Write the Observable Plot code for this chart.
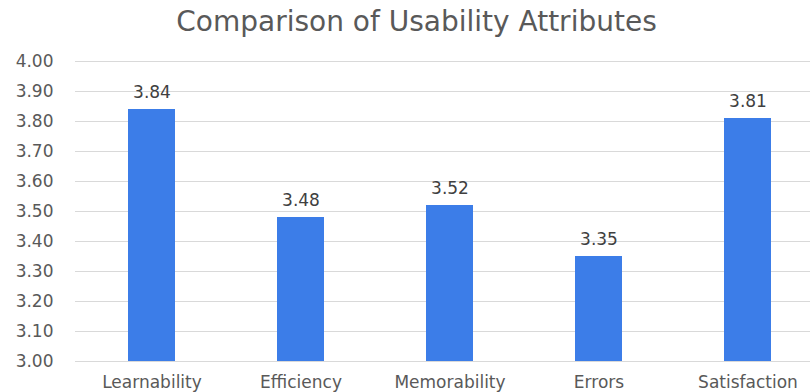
<!DOCTYPE html>
<html>
<head>
<meta charset="utf-8">
<script src="https://cdn.jsdelivr.net/npm/d3@7"></script>
<script src="https://cdn.jsdelivr.net/npm/@observablehq/plot@0.6"></script>
<style>
  html, body { margin: 0; padding: 0; background: #fff; }
  #wrap { position: relative; width: 810px; height: 392px; overflow: hidden; font-family: "DejaVu Sans", sans-serif; }
  #title { position: absolute; left: 0; top: 5px; width: 833px; text-align: center; font-size: 28px; color: #595959; white-space: nowrap; z-index: 2; }
  #chart { position: absolute; left: 0; top: 0; }
</style>
</head>
<body>
<div id="wrap">
  <div id="title">Comparison of Usability Attributes</div>
  <div id="chart"></div>
</div>
<script>
const categories = ["Learnability", "Efficiency", "Memorability", "Errors", "Satisfaction"];
const values = [3.84, 3.48, 3.52, 3.35, 3.81];
const yTicks = [3.0, 3.1, 3.2, 3.3, 3.4, 3.5, 3.6, 3.7, 3.8, 3.9, 4.0];

const data = categories.map((c, i) => ({category: c, value: values[i]}));

const chart = Plot.plot({
  width: 810,
  height: 392,
  marginTop: 61,
  marginBottom: 31,
  marginLeft: 75,
  marginRight: 0,
  style: {fontFamily: "DejaVu Sans, sans-serif", fontSize: "17px", color: "#595959", background: "transparent", overflow: "hidden"},
  x: {domain: categories, range: [75, 823], paddingInner: 0.686, paddingOuter: 0.343, label: null},
  y: {domain: [3.0, 4.0], label: null},
  marks: [
    Plot.ruleY(yTicks, {stroke: "#d9d9d9", strokeWidth: 1}),
    Plot.barY(data, {x: "category", y1: 3.0, y2: "value", fill: "#3C7DE8"}),
    Plot.text(data, {x: "category", y: "value", text: d => d.value.toFixed(2), dy: -17, fill: "#404040", fontSize: 17}),
    Plot.axisY({ticks: yTicks, tickFormat: d => d.toFixed(2), tickSize: 0, tickPadding: 22, label: null, fontSize: 17, fill: "#595959"}),
    Plot.axisX({tickSize: 0, tickPadding: 14, label: null, fontSize: 17, fill: "#595959"})
  ]
});
document.getElementById("chart").appendChild(chart);
</script>
</body>
</html>
